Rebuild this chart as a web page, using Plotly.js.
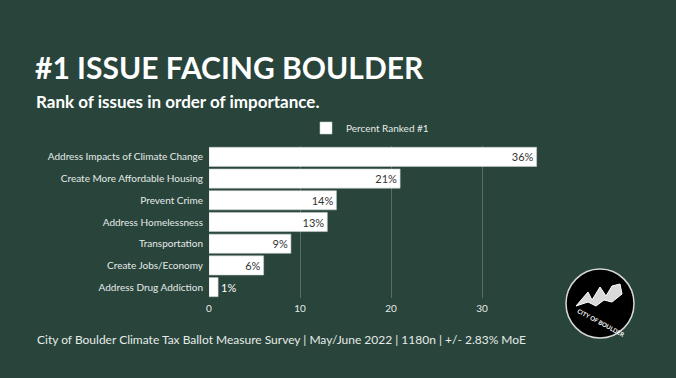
<!DOCTYPE html>
<html><head><meta charset="utf-8">
<script src="https://cdn.plot.ly/plotly-3.0.1.min.js"></script>
<style>html,body{margin:0;padding:0;background:#28443b;}#chart{width:676px;height:378px;}</style>
</head><body><div id="chart"></div>
<script>
const categories = ["Address Impacts of Climate Change","Create More Affordable Housing","Prevent Crime","Address Homelessness","Transportation","Create Jobs/Economy","Address Drug Addiction"];
const percentRanked1 = [36, 21, 14, 13, 9, 6, 1];
const valueLabels = percentRanked1.map(v => v + "%");
const xTicks = [0, 10, 20, 30, 40];

const bg = "#28443b";
const px = v => (v - 209) / 364;      // pixel x -> paper
const py = v => (298 - v) / 152;      // pixel y -> paper
const trace = {
  type: "bar", orientation: "h",
  y: categories, x: percentRanked1,
  name: "Percent Ranked #1",
  text: valueLabels, textposition: "auto", insidetextanchor: "end",
  insidetextfont: {color: "#333333", size: 11, family: "Lato, sans-serif"},
  outsidetextfont: {color: "#ffffff", size: 11, family: "Lato, sans-serif"},
  cliponaxis: false,
  marker: {color: "#ffffff", line: {color: "#c8cfcc", width: 0.6}},
  showlegend: true, hoverinfo: "none"
};
const layout = {
  width: 676, height: 378,
  paper_bgcolor: bg, plot_bgcolor: bg,
  margin: {l: 209, r: 103, t: 146, b: 80},
  font: {family: "Lato, sans-serif", color: "#e6ebe8", size: 11},
  bargap: 0.12,
  showlegend: true,
  legend: {orientation: "h", x: px(306), xanchor: "left", y: py(128), yanchor: "middle",
    font: {size: 10, color: "#e6ebe8"}, bgcolor: "rgba(0,0,0,0)", itemwidth: 30},
  title: {text: "<b>#1 ISSUE FACING BOULDER</b>", x: 35/676, xanchor: "left", xref: "container",
    y: 1 - 68/378, yanchor: "middle", yref: "container",
    font: {family: "Lato, sans-serif", size: 30, color: "#ffffff"}},
  xaxis: {range: [0, 40], tickvals: xTicks, showgrid: true, gridcolor: "rgba(255,255,255,0.22)", gridwidth: 1,
    zeroline: false, showline: false, ticks: "", ticklabelstandoff: 3, tickfont: {size: 10, color: "#e6ebe8"}, fixedrange: true},
  yaxis: {autorange: "reversed", ticks: "", ticklabelstandoff: 5, tickfont: {size: 10, color: "#e6ebe8"},
    showgrid: false, zeroline: false, automargin: false},
  annotations: [
    {text: "<b>Rank of issues in order of importance.</b>", xref: "paper", yref: "paper",
      x: px(34), xanchor: "left", y: py(101), yanchor: "middle", showarrow: false,
      font: {size: 17, color: "#ffffff", family: "Lato, sans-serif"}},
    {text: "City of Boulder Climate Tax Ballot Measure Survey | May/June 2022 | 1180n | +/- 2.83% MoE",
      xref: "paper", yref: "paper", x: px(35), xanchor: "left", y: py(339), yanchor: "middle",
      showarrow: false, font: {size: 12, color: "#e6ebe8", family: "Lato, sans-serif"}},
    {text: "<b>CITY OF BOULDER</b>", xref: "paper", yref: "paper", x: px(601), y: py(322),
      xanchor: "center", yanchor: "middle", showarrow: false, textangle: 28,
      font: {size: 6, color: "#ffffff", family: "Lato, sans-serif"}}
  ],
  shapes: [
    {type: "circle", xref: "paper", yref: "paper", layer: "above",
      x0: px(566), x1: px(634), y0: py(338), y1: py(269),
      fillcolor: "#000000", line: {color: "#d8d8d8", width: 1.5}},
    {type: "path", xref: "paper", yref: "paper", layer: "above",
      path: `M ${px(576)} ${py(306)} L ${px(588)} ${py(292)} L ${px(592)} ${py(300)} L ${px(600)} ${py(287)} L ${px(606)} ${py(296)} L ${px(612)} ${py(286)} L ${px(620)} ${py(284)} L ${px(622)} ${py(294)} L ${px(612)} ${py(302)} L ${px(604)} ${py(300)} L ${px(596)} ${py(306)} L ${px(588)} ${py(302)} Z`,
      fillcolor: "rgba(255,255,255,0.85)", line: {color: "#ffffff", width: 1}}
  ]
};
Plotly.newPlot("chart", [trace], layout, {displayModeBar: false, staticPlot: true});
</script></body></html>
